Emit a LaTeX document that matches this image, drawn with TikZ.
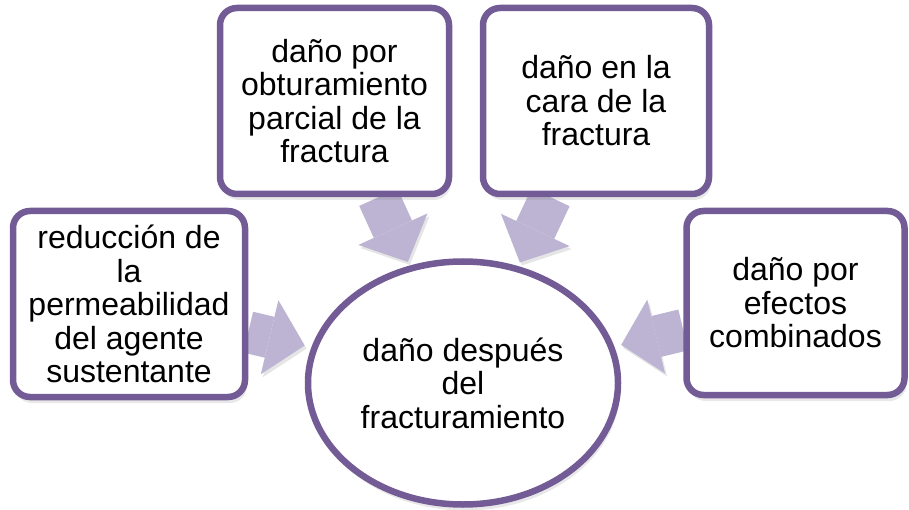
\documentclass[tikz,border=0pt]{standalone}
\usepackage{fontspec}
\setmainfont{Liberation Sans}
\usetikzlibrary{shapes.geometric, arrows.meta, shadows, backgrounds}
\definecolor{plum}{HTML}{735B96}
\definecolor{lilac}{HTML}{BCB4D2}

\begin{document}
\begin{tikzpicture}[
    x=1pt, y=1pt,
    cause/.style={rectangle, rounded corners=17pt, draw=plum, line width=6.5pt, fill=white, align=center, inner sep=0pt, font=\fontsize{32}{33.5}\selectfont, drop shadow={shadow xshift=2pt, shadow yshift=-6pt, opacity=0.18}},
    effect/.style={ellipse, draw=plum, line width=6.5pt, fill=white, align=center, inner sep=0pt, minimum width=310pt, minimum height=243pt, font=\fontsize{32}{33.5}\selectfont, drop shadow={shadow xshift=2pt, shadow yshift=-6pt, opacity=0.18}},
    push/.style={draw=lilac, line width=42pt, -{Triangle[length=36pt, width=76pt, line width=0pt 0]}, shorten >=7pt,
        preaction={draw=black, opacity=0.1, transform canvas={shift={(2pt,-3pt)}}}}
]
\useasboundingbox (0, 0) rectangle (909, 509);

\node[cause, minimum width=232pt, minimum height=186pt] (reduccion) at (129, 205) {reducción de\\la\\permeabilidad\\del agente\\sustentante};
\node[cause, minimum width=229pt, minimum height=186pt] (obturamiento) at (334.5, 408) {daño por\\obturamiento\\parcial de la\\fractura};
\node[cause, minimum width=226pt, minimum height=186pt] (cara) at (596, 408) {daño en la\\cara de la\\fractura};
\node[cause, minimum width=218pt, minimum height=184pt] (combinados) at (795.5, 206) {daño por\\efectos\\combinados};
\node[effect] (despues) at (463, 126) {daño después\\del\\fracturamiento};

\begin{scope}[on background layer]
\draw[push] (reduccion) -- (despues);
\draw[push, shorten >=4pt] (obturamiento) -- (despues);
\draw[push, shorten >=4pt] (cara) -- (despues);
\draw[push] (combinados) -- (despues);
\end{scope}
\end{tikzpicture}
\end{document}
